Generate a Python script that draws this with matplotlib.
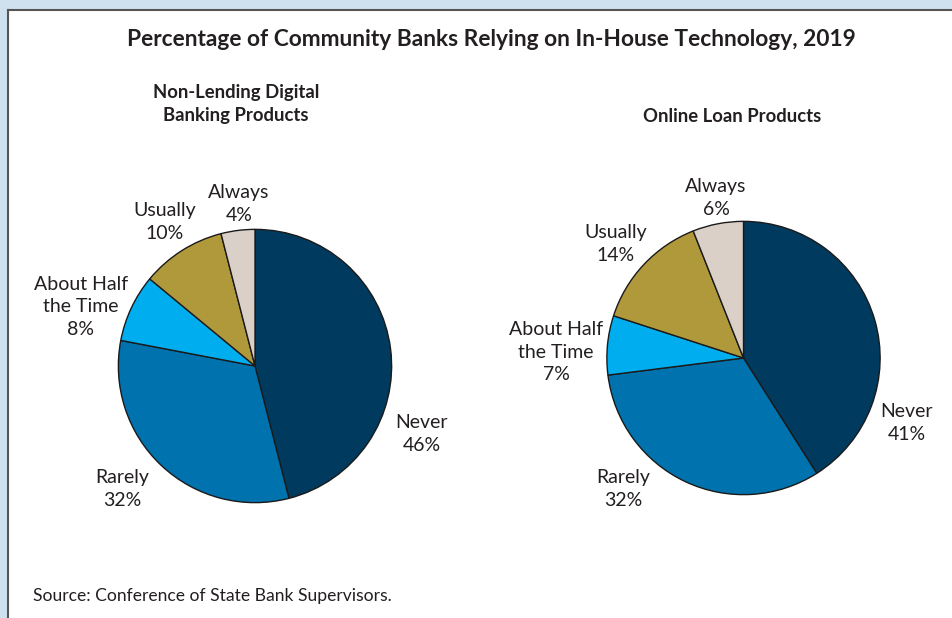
import matplotlib.pyplot as plt

# survey shares, clockwise from 12 o'clock
categories = ["Never", "Rarely", "About Half\nthe Time", "Usually", "Always"]
non_lending = [46, 32, 8, 10, 4]
online_loan = [41, 32, 7, 14, 6]
colors = ["#003a5e", "#0072ae", "#00aeef", "#b0993b", "#dbd0c8"]

W, H = 953, 618
fig = plt.figure(figsize=(W / 100, H / 100), dpi=100)
fig.patch.set_facecolor("#cfe0ef")
plt.rcParams["font.family"] = ["Lato", "DejaVu Sans"]
txt = "#231f20"

# white panel with dark outline, running off the right and bottom edges
panel = fig.add_axes([8.5 / W, -0.02, 1.0, 1.02 - 9.5 / H], zorder=-5)
panel.set_facecolor("white")
panel.set_xticks([])
panel.set_yticks([])
for s in panel.spines.values():
    s.set_color("#555555")
    s.set_linewidth(1.5)


def px(x, y):
    return x / W, 1 - y / H


def draw_pie(cx, cy, r, values, label_pos):
    ax = fig.add_axes([(cx - r) / W, (H - cy - r) / H, 2 * r / W, 2 * r / H])
    ax.pie(values, colors=colors, startangle=90, counterclock=False,
           wedgeprops=dict(edgecolor="#1a1a1a", linewidth=1.0))
    ax.set_xlim(-1.01, 1.01)
    ax.set_ylim(-1.01, 1.01)
    ax.set_axis_off()
    for name, v, (lx, ly) in zip(categories, values, label_pos):
        fig.text(*px(lx, ly), f"{name}\n{v}%", ha="center", va="center",
                 fontsize=14, color=txt, linespacing=1.4)


fig.text(*px(491, 40), "Percentage of Community Banks Relying on In-House Technology, 2019",
         ha="center", va="center", fontsize=16.4, fontweight="bold", color=txt)
fig.text(*px(236, 104), "Non-Lending Digital\nBanking Products", ha="center", va="center",
         fontsize=13.3, fontweight="bold", color=txt, linespacing=1.4)
fig.text(*px(732, 116), "Online Loan Products", ha="center", va="center",
         fontsize=13.3, fontweight="bold", color=txt)

draw_pie(255, 366, 138, non_lending,
         [(422, 434), (122, 489), (81, 307), (165, 222), (239, 204)])
draw_pie(743.5, 358, 138, online_loan,
         [(907, 423), (623, 489), (556, 352), (616, 244), (716, 198)])

fig.text(*px(33, 596), "Source: Conference of State Bank Supervisors.", ha="left", va="center",
         fontsize=12.6, color=txt)

fig.savefig("out.png", dpi=100, facecolor=fig.get_facecolor())
